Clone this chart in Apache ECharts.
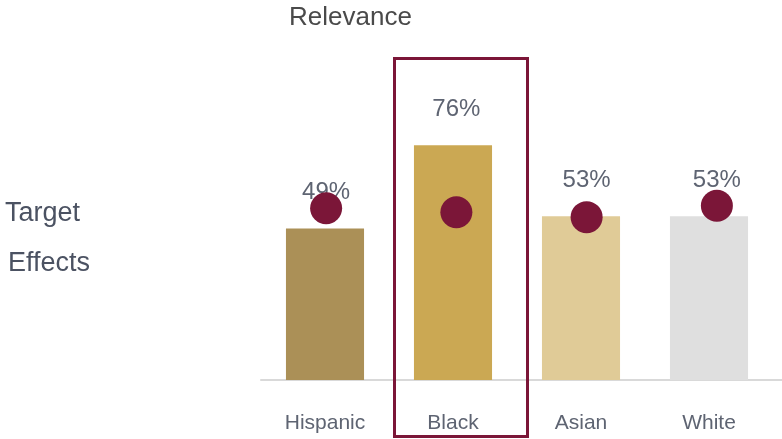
<!DOCTYPE html>
<html>
<head>
<meta charset="utf-8">
<script src="https://cdn.jsdelivr.net/npm/echarts@6/dist/echarts.min.js"></script>
<style>
  html, body { margin: 0; padding: 0; background: #ffffff; }
  #chart { width: 782px; height: 439px; }
</style>
</head>
<body>
<div id="chart"></div>
<script>
// Groups along the horizontal axis
const categories = ['Hispanic', 'Black', 'Asian', 'White'];
// Relevance share per group (bars), in percent
const relevance = [49, 76, 53, 53];
// Target effect per group (dots), in percent
const targetEffects = [55.6, 54.3, 52.7, 56.4];
// Bar fill per group
const barColors = ['#AB9057', '#CBA853', '#E0CB97', '#DFDFDF'];

const dotColor = '#7B1638';
const textGray = '#5E6472';
const fontFamily = '"Liberation Sans", Arial, Helvetica, sans-serif';

const chart = echarts.init(document.getElementById('chart'), null, { renderer: 'canvas' });

chart.setOption({
  animation: false,
  backgroundColor: '#ffffff',
  textStyle: { fontFamily: fontFamily },
  grid: [
    { left: 261, width: 512, top: 71, height: 309 },
    { left: 261, right: 0, top: 71, height: 309 }
  ],
  xAxis: [
    {
      type: 'category', gridIndex: 0, data: categories,
      axisLine: { show: false },
      axisTick: { show: false },
      axisLabel: { color: textGray, fontSize: 21, margin: 33, fontFamily: fontFamily }
    },
    {
      type: 'category', gridIndex: 1, data: categories,
      axisLine: { show: true, lineStyle: { color: '#D9D9D9', width: 2 } },
      axisTick: { show: false }, axisLabel: { show: false }
    }
  ],
  yAxis: [
    { type: 'value', gridIndex: 0, min: 0, max: 100, show: false, splitLine: { show: false } },
    { type: 'value', gridIndex: 1, min: 0, max: 100, show: false, splitLine: { show: false } }
  ],
  series: [
    {
      name: 'Relevance', type: 'bar', xAxisIndex: 0, yAxisIndex: 0,
      barWidth: '61%',
      data: relevance.map((v, i) => ({ value: v, itemStyle: { color: barColors[i] } }))
    },
    {
      // value labels for the bars, placed on the dot axis
      name: 'Relevance labels', type: 'scatter', xAxisIndex: 1, yAxisIndex: 1,
      symbolSize: 0, silent: true,
      itemStyle: { opacity: 1 },
      data: relevance,
      label: {
        show: true, position: 'top', distance: 24,
        formatter: p => p.value + '%',
        color: textGray, opacity: 1, fontSize: 24, fontFamily: fontFamily
      },
      z: 5
    },
    {
      name: 'Target Effects', type: 'scatter', xAxisIndex: 1, yAxisIndex: 1,
      symbol: 'circle', symbolSize: 32,
      itemStyle: { color: dotColor, opacity: 1 },
      data: targetEffects,
      z: 6
    }
  ],
  graphic: [
    {
      type: 'text', left: 289, top: 5,
      style: { text: 'Relevance', fill: '#4A4A4A', font: '26px ' + fontFamily }
    },
    {
      type: 'text', left: 5, top: 200,
      style: { text: 'Target', fill: '#4B5262', font: '27px ' + fontFamily }
    },
    {
      type: 'text', left: 8, top: 250,
      style: { text: 'Effects', fill: '#4B5262', font: '27px ' + fontFamily }
    },
    {
      type: 'rect', z: 10,
      shape: { x: 394.5, y: 58.5, width: 133, height: 378 },
      style: { fill: 'none', stroke: dotColor, lineWidth: 3 }
    }
  ]
});
</script>
</body>
</html>
